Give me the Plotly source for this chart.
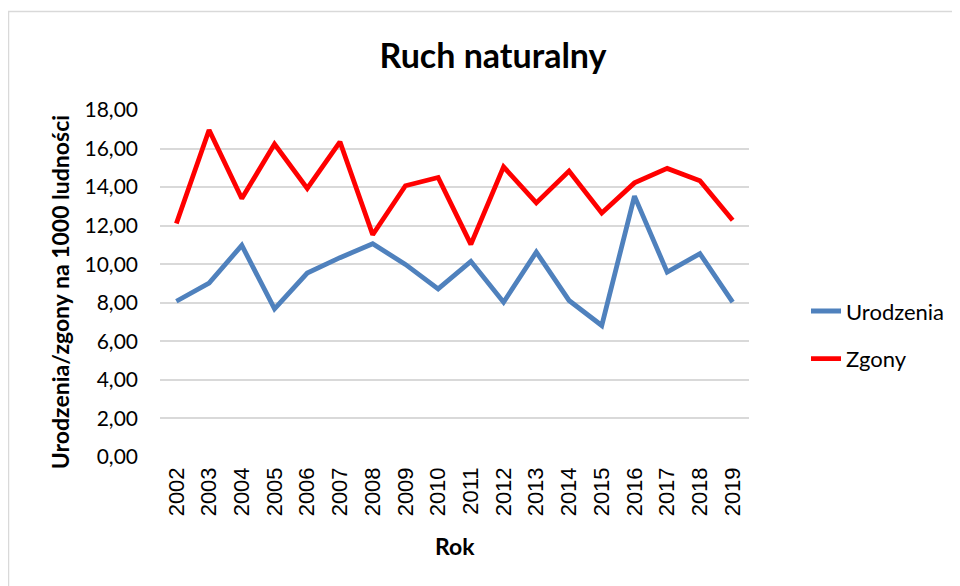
import plotly.graph_objects as go

years = [str(y) for y in range(2002, 2020)]
urodzenia = [8.08, 9.02, 10.98, 7.68, 9.54, 10.34, 11.06, 9.99, 8.72, 10.15,
             8.03, 10.63, 8.12, 6.82, 13.53, 9.59, 10.55, 8.03]
zgony = [12.11, 16.96, 13.41, 16.23, 13.93, 16.35, 11.53, 14.07, 14.50, 11.03,
         15.05, 13.18, 14.83, 12.66, 14.22, 14.97, 14.33, 12.28]
y_ticks = [0, 2, 4, 6, 8, 10, 12, 14, 16, 18]

# the page body has an 8px margin; figure placed at (8, 8)
OFF = 8
W, H = 960 - OFF, 586 - OFF
PX0, PX1 = 160, 749        # plot area in page pixels
PY0, PY1 = 110, 456.7
L = PX0 - OFF
R = W - (PX1 - OFF)
T = PY0 - OFF
B = H - (PY1 - OFF)
pw, ph = PX1 - PX0, PY1 - PY0

def px_x(x):
    return (x - PX0) / pw

def px_y(y):
    return (PY1 - y) / ph

fig = go.Figure()
fig.add_trace(go.Scatter(x=years, y=urodzenia, mode="lines", name="Urodzenia",
                         line=dict(color="#4F81BD", width=4.8), legendgroup="a"))
fig.add_trace(go.Scatter(x=years, y=zgony, mode="lines", name="Zgony",
                         line=dict(color="#FF0000", width=4.8), legendgroup="b"))

fig.update_layout(
    width=W, height=H,
    margin=dict(l=L, r=R, t=T, b=B, autoexpand=False),
    paper_bgcolor="white", plot_bgcolor="white",
    separators=", ",
    font=dict(family="Lato", size=20, color="#000000"),
    title=dict(text="<b>Ruch naturalny</b>", x=(493 - OFF) / W, xanchor="center",
               xref="container", yref="container", y=1 - (56 - OFF) / H,
               yanchor="middle",
               font=dict(family="Lato", size=34, color="#000000")),
    showlegend=True,
    legend=dict(x=px_x(806), xanchor="left", y=px_y(335), yanchor="middle",
                traceorder="grouped", tracegroupgap=16,
                font=dict(family="Lato", size=22, color="#000000"),
                bgcolor="rgba(0,0,0,0)"),
    xaxis=dict(type="category", range=[-0.5, 17.5], showgrid=False,
               showline=False, zeroline=False, ticks="",
               tickangle=-90, ticklabelstandoff=5,
               tickfont=dict(family="Liberation Sans", size=22, color="#000000")),
    yaxis=dict(range=[0, 18], tickvals=y_ticks, tickformat=".2f",
               showgrid=True, gridcolor="#D9D9D9", gridwidth=1.5,
               zeroline=False, showline=False, ticks="",
               ticklabelstandoff=21,
               tickfont=dict(family="Lato", size=21, color="#000000")),
    annotations=[
        dict(text="<b>Urodzenia/zgony na 1000 ludności</b>", textangle=-90,
             xref="paper", yref="paper", x=px_x(60), y=px_y(292),
             xanchor="center", yanchor="middle", showarrow=False,
             font=dict(family="Lato", size=23, color="#000000")),
        dict(text="<b>Rok</b>", xref="paper", yref="paper",
             x=px_x(455), y=px_y(546), xanchor="center", yanchor="middle",
             showarrow=False, font=dict(family="Lato", size=23, color="#000000")),
    ],
    shapes=[dict(type="rect", xref="paper", yref="paper",
                 x0=px_x(8.5), x1=px_x(975), y0=px_y(600), y1=px_y(11.5),
                 line=dict(color="#D9D9D9", width=1.5), fillcolor="rgba(0,0,0,0)",
                 layer="below")],
)

fig.write_html("out.html")
